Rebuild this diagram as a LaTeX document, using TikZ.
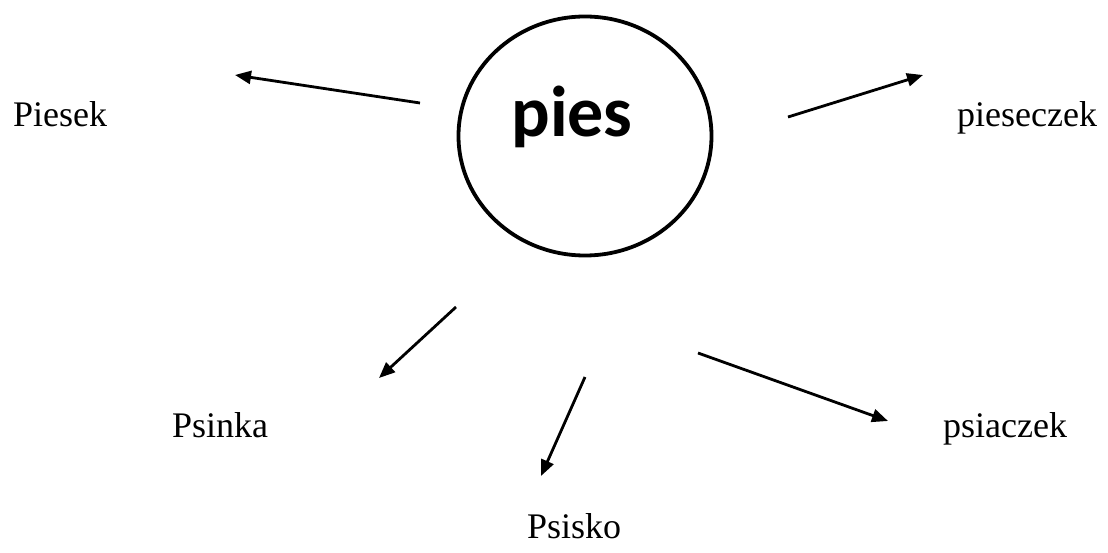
\documentclass[tikz,border=0pt]{standalone}
\usepackage{fontspec}
\setmainfont{Liberation Serif}
\newfontfamily\calfont{Carlito}
\usetikzlibrary{arrows.meta,shapes.geometric}
\tikzset{
  word/.style={anchor=base west, inner sep=0pt, font=\fontsize{36}{40}\selectfont},
  link/.style={line width=2.8pt, -{Triangle[length=16pt,width=13pt]}},
  hub/.style={ellipse, draw, line width=3.8pt, minimum width=253pt, minimum height=239pt, inner sep=0pt}
}
\begin{document}
\begin{tikzpicture}[x=1pt,y=-1pt]
\useasboundingbox (0,0) rectangle (1108,553);
\node[hub] (c) at (585,136) {};
\node[anchor=base, inner sep=0pt, font=\calfont\bfseries\fontsize{72}{80}\selectfont] (pies) at (572,137) {pies};
\node[word] (piesek) at (13,127) {Piesek};
\node[word] (pieseczek) at (957,127) {pieseczek};
\node[word] (psinka) at (172,437) {Psinka};
\node[word] (psisko) at (527,538) {Psisko};
\node[word] (psiaczek) at (943,437) {psiaczek};
\coordinate (a1s) at (420,103); \coordinate (a1e) at (235,75);
\coordinate (a2s) at (788,117); \coordinate (a2e) at (923,75);
\coordinate (a3s) at (456,307); \coordinate (a3e) at (379,378);
\coordinate (a4s) at (585,377); \coordinate (a4e) at (541,476);
\coordinate (a5s) at (698,353); \coordinate (a5e) at (888,421);
\draw[link] (a1s) -- (a1e);
\draw[link] (a2s) -- (a2e);
\draw[link] (a3s) -- (a3e);
\draw[link] (a4s) -- (a4e);
\draw[link] (a5s) -- (a5e);
\end{tikzpicture}
\end{document}
